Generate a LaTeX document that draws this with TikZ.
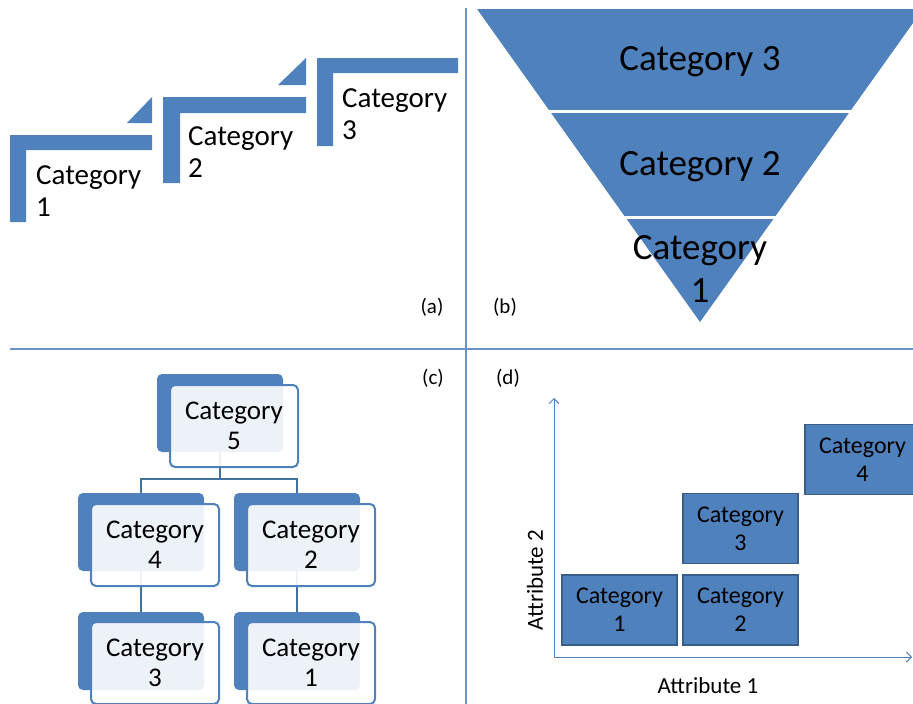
\documentclass[tikz,border=0pt]{standalone}
\usepackage{fontspec}
\setmainfont{Carlito}
\usetikzlibrary{arrows.meta}
\definecolor{mblue}{HTML}{4F81BD}
\definecolor{dblue}{HTML}{385D8A}
\definecolor{lineblue}{HTML}{6A93C8}
\definecolor{connc}{HTML}{41719C}
\begin{document}
\begin{tikzpicture}[x=1pt,y=-1pt,
  divider/.style={draw=lineblue,line width=1.3pt},
  stepshape/.style={fill=mblue},
  steptext/.style={anchor=west,align=left,inner sep=0pt,font=\fontsize{29}{32}\selectfont},
  funneltext/.style={align=center,inner sep=0pt,font=\fontsize{37}{43}\selectfont},
  panellabel/.style={inner sep=0pt,font=\fontsize{21}{24}\selectfont},
  backbox/.style={fill=mblue,rounded corners=5pt,minimum width=126pt,minimum height=78pt,inner sep=0pt},
  frontbox/.style={draw=mblue,line width=2pt,fill=white,fill opacity=0.9,text opacity=1,rounded corners=5pt,
     minimum width=128pt,minimum height=82pt,inner sep=0pt,align=center,font=\fontsize{27}{30}\selectfont},
  conn/.style={draw=connc,line width=1.5pt},
  catbox/.style={fill=mblue,draw=dblue,line width=1.5pt,minimum width=115pt,minimum height=70pt,
     inner sep=0pt,align=center,font=\fontsize{24}{28}\selectfont},
  axis/.style={draw=mblue,line width=1pt,-{Straight Barb[length=5pt,width=10pt]}},
  axislabel/.style={inner sep=0pt,font=\fontsize{23}{26}\selectfont}]
\useasboundingbox (0,0) rectangle (913,704);
% dividers
\draw[divider] (466,8) -- (466,704);
\draw[divider] (10,349) -- (913,349);
% ---------- (a) steps
\fill[stepshape] (10,135) -- (152,135) -- (152,150) -- (26,150) -- (26,222) -- (10,222) -- cycle;
\fill[stepshape] (127,123) -- (152,123) -- (152,97) -- cycle;
\fill[stepshape] (163,97) -- (306,97) -- (306,113) -- (180,113) -- (180,183) -- (163,183) -- cycle;
\fill[stepshape] (278,85) -- (306,85) -- (306,58) -- cycle;
\fill[stepshape] (317,58) -- (458,58) -- (458,73) -- (333,73) -- (333,146) -- (317,146) -- cycle;
\node[steptext] (a1) at (36,191) {Category\\1};
\node[steptext] (a2) at (188,152) {Category\\2};
\node[steptext] (a3) at (342,114) {Category\\3};
\node[panellabel] (la) at (432,307) {(a)};
% ---------- (b) funnel
\fill[mblue] (477,9) -- (923,9) -- (700,322) -- cycle;
\draw[white,line width=3pt] (540,111.5) -- (860,111.5);
\draw[white,line width=3pt] (615,217.5) -- (785,217.5);
\node[funneltext] (f3) at (700,62) {Category 3};
\node[funneltext] (f2) at (700,167) {Category 2};
\node[funneltext] (f1) at (700,269) {Category\\1};
\node[panellabel] (lb) at (505,307) {(b)};
% ---------- (c) hierarchy
\node[panellabel] (lc) at (433,378) {(c)};
\node[backbox] (b5) at (220,413) {};
\node[backbox] (b4) at (141,532) {};
\node[backbox] (b2) at (297,532) {};
\node[backbox] (b3) at (141,651) {};
\node[backbox] (b1) at (297,651) {};
\draw[conn] (b5.south) -- ++(0,27) coordinate (bus) -| (b4.north);
\draw[conn] (bus) -| (b2.north);
\draw[conn] (b4.south) -- (b3.north);
\draw[conn] (b2.south) -- (b1.north);
\node[frontbox] (c5) at (234,426) {Category\\5};
\node[frontbox] (c4) at (155,545) {Category\\4};
\node[frontbox] (c2) at (311,545) {Category\\2};
\node[frontbox] (c3) at (155,663) {Category\\3};
\node[frontbox] (c1) at (311,663) {Category\\1};
% ---------- (d) matrix
\node[panellabel] (ld) at (508,378) {(d)};
\coordinate (O) at (554,657);
\coordinate (ytop) at (554,398);
\coordinate (xend) at (912,657);
\draw[axis] (O) -- (ytop);
\draw[axis] (O) -- (xend);
\node[catbox] (d1) at (619.5,610) {Category\\1};
\node[catbox] (d2) at (740.5,610) {Category\\2};
\node[catbox] (d3) at (740.5,528.5) {Category\\3};
\node[catbox] (d4) at (862.5,459.5) {Category\\4};
\node[axislabel] (x1) at (708,686) {Attribute 1};
\node[axislabel,rotate=90] (x2) at (535,580) {Attribute 2};
\end{tikzpicture}
\end{document}
